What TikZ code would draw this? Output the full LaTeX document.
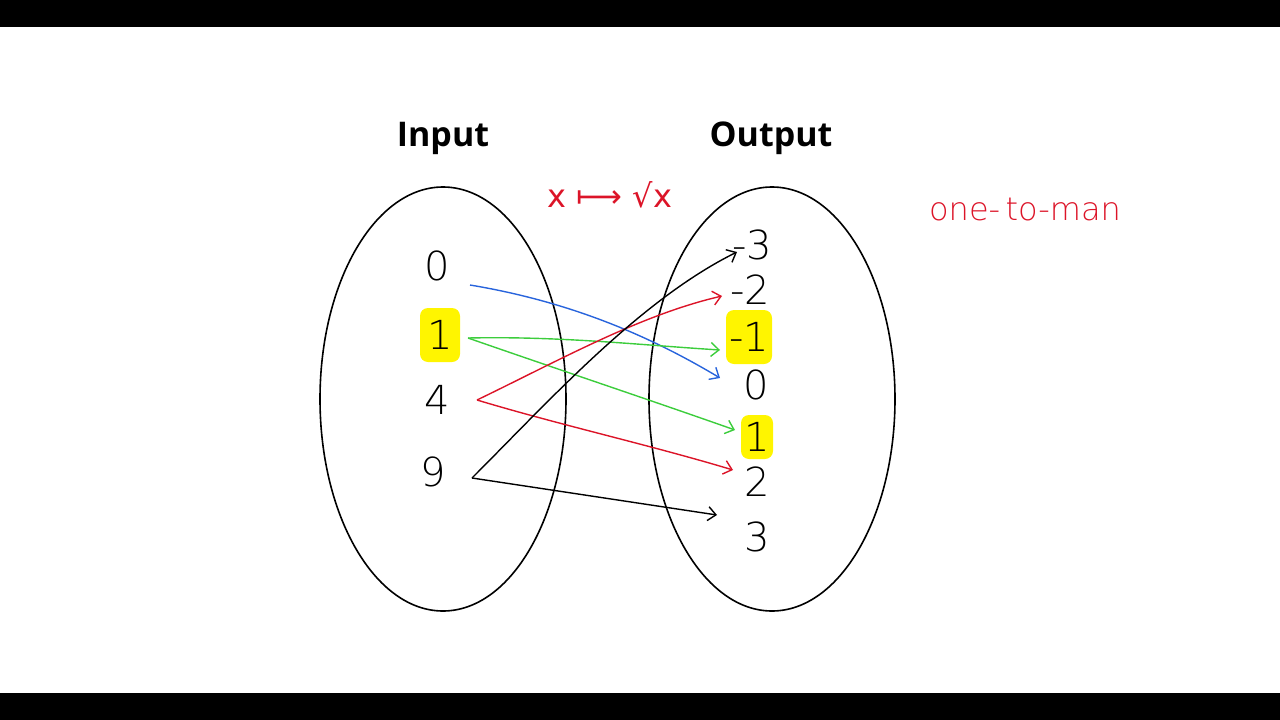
\documentclass[tikz,border=0pt]{standalone}
\usepackage{fontspec}
\setmainfont{DejaVu Sans}
\newfontfamily\bold{Open Sans}
\newfontfamily\thin{DejaVu Sans ExtraLight}
\newfontfamily\dvs{DejaVu Sans}
\usetikzlibrary{arrows.meta}
\definecolor{hred}{RGB}{220,20,40}
\definecolor{hgreen}{RGB}{60,205,60}
\definecolor{hblue}{RGB}{40,100,220}
\definecolor{hyel}{RGB}{255,245,0}
\begin{document}
\begin{tikzpicture}[x=1pt,y=-1pt,
  num/.style={font=\fontsize{40}{40}\selectfont\thin},
  hl/.style={num,fill=hyel,rounded corners=8pt,minimum width=40pt,minimum height=54pt,inner sep=2pt},
  ttl/.style={font=\fontsize{34}{34}\selectfont\bold\bfseries},
  link/.style={-{Straight Barb[length=8pt,width=14pt]},line width=1.4pt}]
\useasboundingbox (0,0) rectangle (1280,720);
\fill[black] (0,0) rectangle (1280,27);
\fill[black] (0,693) rectangle (1280,720);
\draw[line width=1.6pt] (443,399) ellipse [x radius=123, y radius=212];
\draw[line width=1.6pt] (772,399) ellipse [x radius=123, y radius=212];
\node[ttl] (tin) at (443,138) {Input};
\node[ttl] (tout) at (771,138) {Output};
\node[num] (i0) at (437,266) {0};
\node[hl] (i1) at (440,335) {1};
\node[num] (i4) at (437,400) {4};
\node[num] (i9) at (433,472) {9};
\node[num] (om3) at (752,245) {-3};
\node[num] (om2) at (750,290) {-2};
\node[hl,minimum width=46pt] (om1) at (749,337) {-1};
\node[num] (o0) at (756,385) {0};
\node[hl,minimum width=32pt,minimum height=44pt] (o1) at (757,437) {1};
\node[num] (o2) at (757,482) {2};
\node[num] (o3) at (757,537) {3};
\coordinate (a0) at (470,285); \coordinate (b0) at (720,378);
\coordinate (a1) at (468,338); \coordinate (b1) at (720,350); \coordinate (b1b) at (735,430);
\coordinate (a4) at (477,400); \coordinate (b4) at (722,296); \coordinate (b4b) at (733,470);
\coordinate (a9) at (472,478); \coordinate (b9) at (737,252); \coordinate (b9b) at (717,515);
\draw[link,hblue] (a0) .. controls (560,300) and (640,330) .. (b0);
\draw[link,hgreen] (a1) .. controls (560,336) and (640,345) .. (b1);
\draw[link,hgreen] (a1) .. controls (560,370) and (650,400) .. (b1b);
\draw[link,hred] (a4) .. controls (560,360) and (640,315) .. (b4);
\draw[link,hred] (a4) .. controls (560,425) and (650,445) .. (b4b);
\draw[link,black] (a9) .. controls (550,400) and (640,300) .. (b9);
\draw[link,black] (a9) -- (b9b);
\node[hred,font=\fontsize{32}{32}\selectfont\dvs] (map) at (610,195) {x ⟼ √x};
\node[hred,font=\fontsize{32}{32}\selectfont\thin] (otm) at (1025,210) {one-\,to-man};
\end{tikzpicture}
\end{document}
